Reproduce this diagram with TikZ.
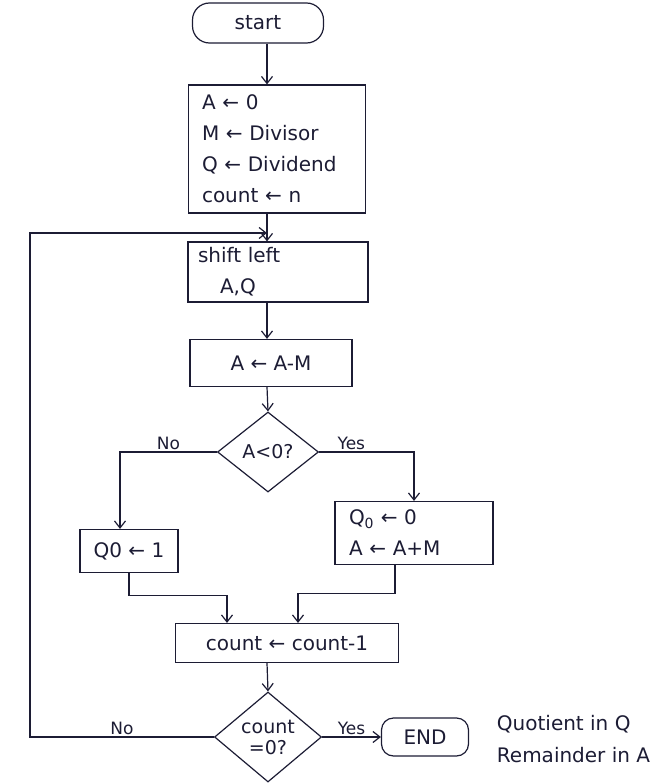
\documentclass[tikz,border=0pt]{standalone}
\usepackage{fontspec}
\setmainfont{DejaVu Sans}
\usetikzlibrary{arrows.meta,shapes.geometric}
\definecolor{ink}{RGB}{28,28,52}
\begin{document}
\begin{tikzpicture}[x=1pt,y=-1pt,line width=1.2pt,color=ink,
    >={Straight Barb[length=7pt,width=11pt]},
    box/.style={draw,rectangle,font=\fontsize{20}{31}\selectfont},
    term/.style={draw,rectangle,rounded corners=17pt,font=\fontsize{20}{24}\selectfont},
    decision/.style={draw,diamond,inner sep=0pt,font=\fontsize{19}{21}\selectfont},
    lab/.style={font=\fontsize{17}{19}\selectfont,inner sep=2pt}]
    \useasboundingbox (0,0) rectangle (669,784);
    \coordinate (axis) at (267,0);
    \coordinate (back) at (30,233);
    \coordinate (join) at (267,233);
    \node[term,minimum width=131pt,minimum height=40pt] (start) at (258,23) {start};
    \node[box,minimum width=177pt,minimum height=128pt,text width=150pt,inner xsep=13.5pt,align=left] (init) at (277,149) {A ← 0\\M ← Divisor\\Q ← Dividend\\count ← n};
    \node[box,minimum width=180pt,minimum height=60pt,text width=160pt,inner xsep=10pt,align=left] (shift) at (278,272) {shift left\\\hspace*{22pt}A,Q};
    \node[box,minimum width=162pt,minimum height=47pt] (sub) at (271,363) {A ← A-M};
    \node[decision,minimum width=101pt,minimum height=80pt] (test1) at (268,452) {A<0?};
    \node[box,minimum width=98pt,minimum height=43pt] (one) at (129,551) {Q0 ← 1};
    \node[box,minimum width=158pt,minimum height=63pt,text width=130pt,inner xsep=14pt,align=left] (zero) at (414,533) {Q\textsubscript{0} ← 0\\A ← A+M};
    \node[box,minimum width=223pt,minimum height=39pt] (dec) at (287,643) {count ← count-1};
    \node[decision,shape aspect=1.2,minimum width=107pt,minimum height=90pt,align=center] (test2) at (268,737) {count\\=0?};
    \node[term,rounded corners=12pt,minimum width=87pt,minimum height=38pt] (finish) at (425,737) {END};
    \node[box,draw=none,font=\fontsize{20}{32}\selectfont,align=left,anchor=west] (note) at (493,739) {Quotient in Q\\Remainder in A};
    \draw[->] (start.south -| axis) -- (init.north -| axis);
    \draw[->] (init.south -| axis) -- (shift.north -| axis);
    \draw[->] (shift.south -| axis) -- (sub.north -| axis);
    \draw[->] (sub.south -| axis) -- (test1.north);
    \draw[->] (test1.west) -| node[lab,pos=0.25,above] (no1) {No} ([xshift=-9pt]one.north);
    \draw[->] (test1.east) -| node[lab,pos=0.17,above] (yes1) {Yes} (zero.north);
    \draw[->] (one.south) -- ++(0,22) -| ([xshift=-60pt]dec.north);
    \draw[->] ([xshift=-19pt]zero.south) -- ++(0,28) -| ([xshift=11pt]dec.north);
    \draw[->] (dec.south -| axis) -- (test2.north);
    \draw[->] (test2.east) -- node[lab,above] (yes2) {Yes} (finish.west);
    \draw[->] (test2.west) -| node[lab,pos=0.25,above] (no2) {No} (back) -- (join);
\end{tikzpicture}
\end{document}
